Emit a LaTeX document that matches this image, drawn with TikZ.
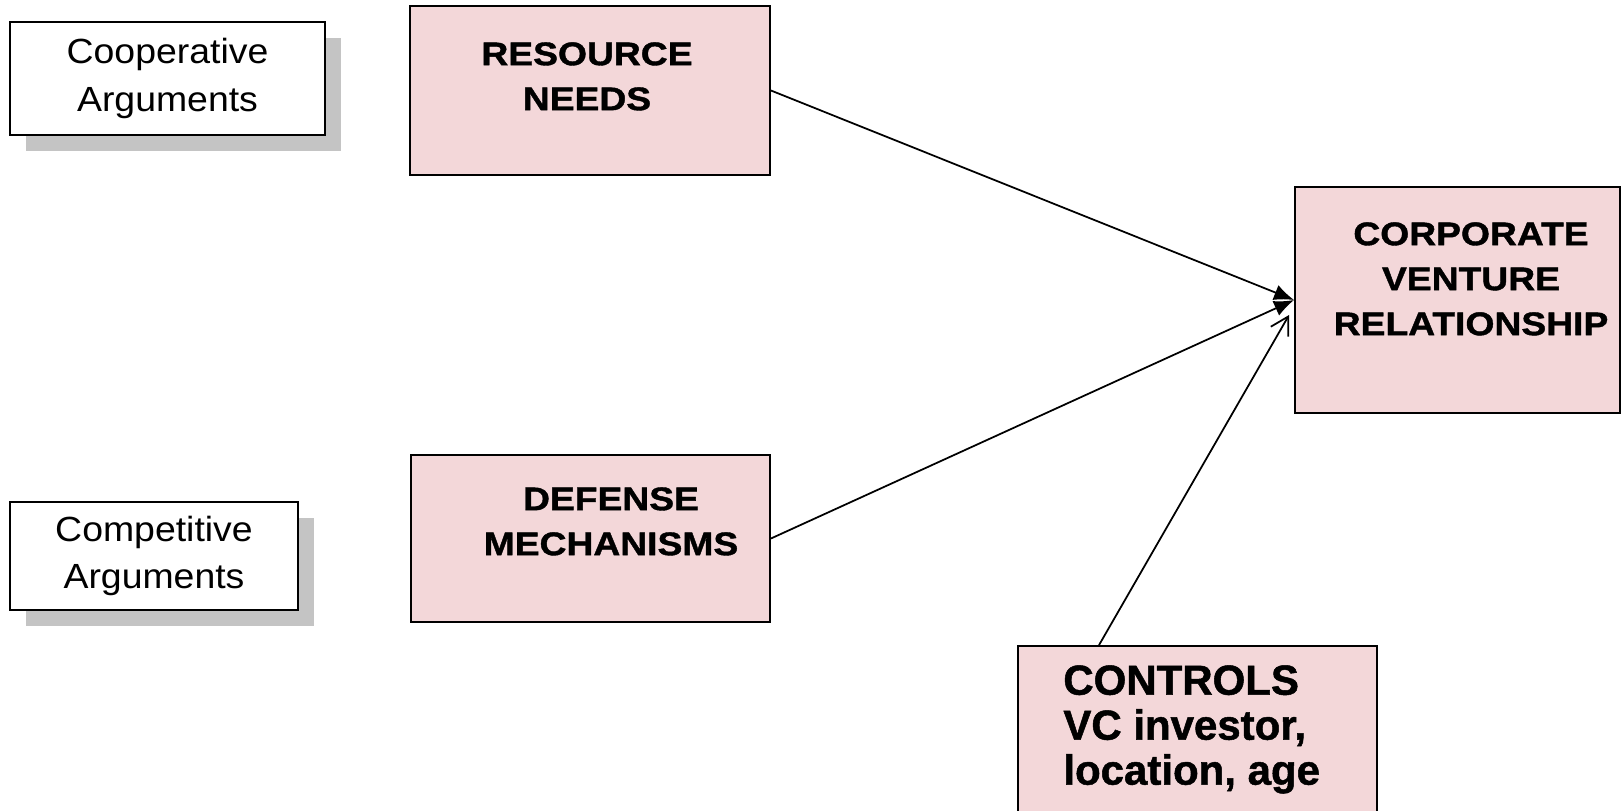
\documentclass[tikz,border=0pt]{standalone}
\usepackage{fontspec}
\newfontfamily\argfont{Liberation Sans}[FakeStretch=1.07]
\newfontfamily\factorfont{Liberation Sans Bold}[FakeStretch=1.14,FakeBold=1.2]
\newfontfamily\ctlfont{Liberation Sans Bold}[FakeBold=1.2]
\usetikzlibrary{shadows,arrows.meta}
\definecolor{boxpink}{RGB}{243,215,217}
\definecolor{shadowgray}{RGB}{196,196,196}
\tikzstyle{arg}=[draw,line width=1.6pt,fill=white,align=center,font=\argfont\fontsize{19.9}{27}\selectfont,drop shadow={shadow xshift=0.32cm,shadow yshift=-0.32cm,fill=shadowgray,opacity=1}]
\tikzstyle{factor}=[draw,line width=1.1pt,fill=boxpink]
\tikzstyle{factortext}=[anchor=north,inner sep=0pt,align=center,font=\factorfont\fontsize{18.6}{25.6}\selectfont]
\tikzstyle{ctltext}=[anchor=north west,inner sep=0pt,align=left,font=\ctlfont\fontsize{23.9}{25.6}\selectfont]
\tikzstyle{link}=[line width=1pt,-{Latex[length=0.4cm,width=0.32cm]}]
\tikzstyle{ctllink}=[line width=1pt,-{Straight Barb[length=0.35cm,width=0.4cm]}]

\begin{document}
\begin{tikzpicture}[x=0.02cm,y=-0.02cm]
  \useasboundingbox (0,0) rectangle (1622,811);
  \node[arg,minimum width=6.3cm,minimum height=2.26cm] (coop) at (167.5,78.5) {Cooperative\\Arguments};
  \node[arg,minimum width=5.76cm,minimum height=2.16cm] (comp) at (154,556) {Competitive\\Arguments};

  \node[factor,minimum width=7.2cm,minimum height=3.38cm] (rn) at (590,90.5) {};
  \node[factortext] (rnt) at (587,42) {RESOURCE\\NEEDS};
  \node[factor,minimum width=7.18cm,minimum height=3.34cm] (dm) at (590.5,538.5) {};
  \node[factortext] (dmt) at (611,487) {DEFENSE\\MECHANISMS};
  \node[factor,minimum width=6.5cm,minimum height=4.52cm] (cvr) at (1457.5,300) {};
  \node[factortext] (cvrt) at (1471,222) {CORPORATE\\VENTURE\\RELATIONSHIP};
  \node[factor,minimum width=7.18cm,minimum height=3.88cm] (ctl) at (1197.5,743) {};
  \node[ctltext] (ctlt) at (1063,665) {CONTROLS\\VC investor,\\location, age};

  \draw[link] (rn.east) -- (cvr.west);
  \draw[link] (dm.east) -- (cvr.west);
  \draw[ctllink] ([xshift=-1.97cm]ctl.north) -- ([xshift=-0.1cm,yshift=-0.3cm]cvr.west);
\end{tikzpicture}
\end{document}
